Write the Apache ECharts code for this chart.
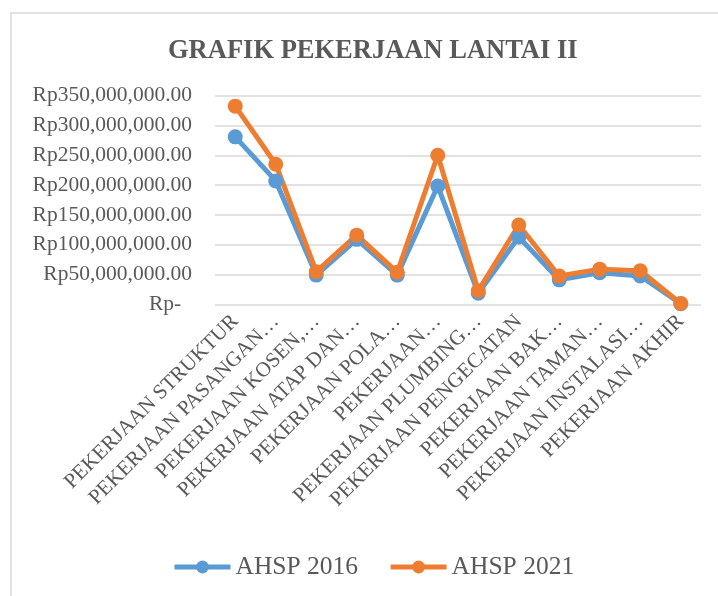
<!DOCTYPE html>
<html>
<head>
<meta charset="utf-8">
<script src="https://cdn.jsdelivr.net/npm/echarts@6/dist/echarts.min.js"></script>
<style>
html,body{margin:0;padding:0;background:#fff;}
#chart{width:718px;height:596px;}
</style>
</head>
<body>
<div id="chart"></div>
<script>
var categories = [
  'PEKERJAAN STRUKTUR',
  'PEKERJAAN PASANGAN…',
  'PEKERJAAN KOSEN,…',
  'PEKERJAAN ATAP DAN…',
  'PEKERJAAN POLA…',
  'PEKERJAAN…',
  'PEKERJAAN PLUMBING…',
  'PEKERJAAN PENGECATAN',
  'PEKERJAAN BAK…',
  'PEKERJAAN TAMAN…',
  'PEKERJAAN INSTALASI…',
  'PEKERJAAN AKHIR'
];
var ahsp2016 = [281000000, 207000000, 49000000, 109000000, 49000000, 198500000, 18500000, 113000000, 41000000, 53000000, 47500000, 1000000];
var ahsp2021 = [332500000, 235000000, 54700000, 116000000, 53700000, 250000000, 22800000, 133000000, 47500000, 59000000, 56400000, 1500000];
var seriesNames = ['AHSP 2016', 'AHSP 2021'];
var titleText = 'GRAFIK PEKERJAAN LANTAI II';

var FONT = '"Liberation Serif", "Times New Roman", "DejaVu Serif", serif';
var TXT = '#595959';

function fmt(v) {
  if (v === 0) return 'Rp-\u00a0\u00a0';
  var s = String(Math.round(v)).replace(/\B(?=(\d{3})+(?!\d))/g, ',');
  return 'Rp' + s + '.00';
}

var chart = echarts.init(document.getElementById('chart'), null, {renderer: 'canvas'});
chart.setOption({
  backgroundColor: '#ffffff',
  animation: false,
  graphic: [{
    type: 'rect',
    shape: {x: 11, y: 13, width: 900, height: 900},
    style: {fill: 'none', stroke: '#D9D9D9', lineWidth: 1.5},
    silent: true,
    z: -10
  }],
  title: {
    text: titleText,
    left: 163,
    top: 33,
    textStyle: {fontFamily: FONT, fontSize: 26.5, fontWeight: 'bold', color: TXT}
  },
  legend: {
    data: seriesNames,
    left: 167,
    top: 549,
    itemWidth: 56,
    itemHeight: 16,
    itemGap: 30,
    lineStyle: {width: 5},
    textStyle: {fontFamily: FONT, fontSize: 25.5, color: TXT}
  },
  grid: {left: 215, right: 17, top: 95.7, height: 208.6, containLabel: false},
  xAxis: {
    type: 'category',
    data: categories,
    boundaryGap: true,
    axisLine: {show: false},
    axisTick: {show: false},
    axisLabel: {
      interval: 0,
      rotate: 45,
      margin: 14,
      fontFamily: FONT,
      fontSize: 21,
      color: TXT
    }
  },
  yAxis: {
    type: 'value',
    min: 0,
    max: 350000000,
    interval: 50000000,
    axisLine: {show: false},
    axisTick: {show: false},
    splitLine: {lineStyle: {color: '#D9D9D9', width: 1.5}},
    axisLabel: {
      margin: 23,
      fontFamily: FONT,
      fontSize: 21.5,
      color: TXT,
      formatter: fmt
    }
  },
  series: [
    {
      name: seriesNames[0],
      type: 'line',
      data: ahsp2016,
      symbol: 'circle',
      symbolSize: 15,
      color: '#5B9BD5',
      lineStyle: {width: 5, color: '#5B9BD5'},
      itemStyle: {color: '#5B9BD5'}
    },
    {
      name: seriesNames[1],
      type: 'line',
      data: ahsp2021,
      symbol: 'circle',
      symbolSize: 15,
      color: '#ED7D31',
      lineStyle: {width: 5, color: '#ED7D31'},
      itemStyle: {color: '#ED7D31'}
    }
  ]
});
</script>
</body>
</html>
